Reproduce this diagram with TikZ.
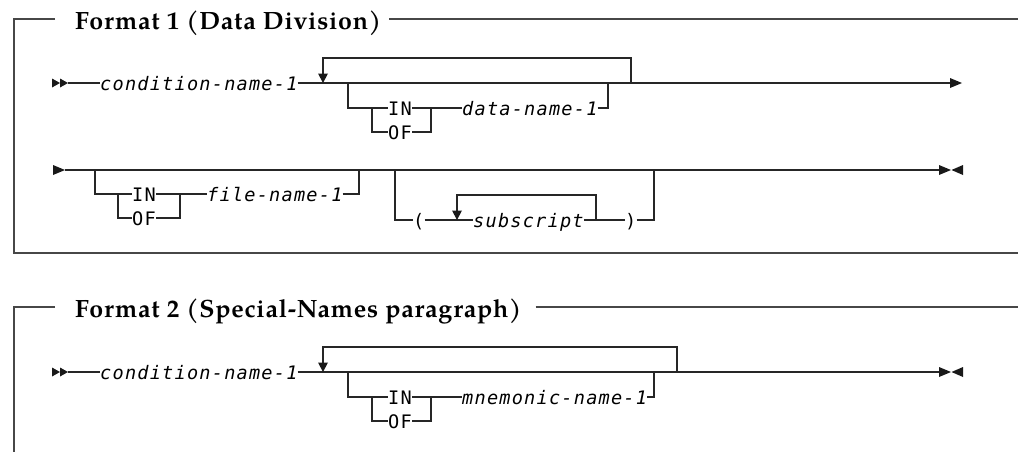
\documentclass[tikz,border=0pt]{standalone}
\usepackage{fontspec}
\newfontfamily\ttlfont{TeX Gyre Pagella}[LetterSpace=3]
\newfontfamily\monofont{DejaVu Sans Mono}[LetterSpace=6.5]
\begin{document}
\begin{tikzpicture}[x=1pt,y=-1pt,
  ln/.style={line width=1.3pt, black!85},
  frame/.style={line width=1.8pt, black!72},
  var/.style={font=\monofont\itshape\fontsize{18.6}{18}\selectfont, inner sep=0pt, anchor=base west},
  kw/.style={font=\monofont\fontsize{18.6}{18}\selectfont, inner sep=0pt, anchor=base west},
  ttl/.style={font=\ttlfont\bfseries\fontsize{25}{25}\selectfont, inner sep=0pt, anchor=base west},
  tip/.style={fill=black!90}]
\useasboundingbox (0,0) rectangle (1018,451);

% ================= Format 1 =================
\node[ttl] (t1) at (75,29) {Format 1 (Data Division)};
\coordinate (f1a) at (55,19);
\coordinate (f1b) at (14,19);
\coordinate (f1c) at (14,253);
\coordinate (f1d) at (1018,253);
\coordinate (f1e) at (1018,19);
\draw[frame] (f1a) -- (f1b) -- (f1c) -- (f1d);
\draw[frame] ([xshift=8]t1.east |- f1e) -- (f1e);

% --- row 1 (y = 83)
\coordinate (r1s) at (68,83);
\coordinate (r1e) at (951,83);
\fill[tip] (52,78.5) -- (60,83) -- (52,87.5) -- cycle;
\fill[tip] (60,78.5) -- (68,83) -- (60,87.5) -- cycle;
\node[var] (c1) at (100,90) {condition-name-1};
\draw[ln] (r1s) -- (c1.west |- r1s);
\draw[ln] (c1.east |- r1s) -- (r1e);
\fill[tip] (950,78) -- (962,83) -- (950,88) -- cycle;
% repeat loop
\coordinate (l1a) at (323,75);
\coordinate (l1b) at (323,58);
\coordinate (l1c) at (631,58);
\coordinate (l1d) at (631,83);
\draw[ln] (l1d) -- (l1c) -- (l1b) -- (l1a);
\fill[tip] (318,73.5) -- (328,73.5) -- (323,83) -- cycle;
% optional IN/OF data-name-1
\coordinate (o1a) at (348,83);
\coordinate (o1b) at (348,108);
\coordinate (k1) at (372,108);
\coordinate (k1b) at (372,132);
\coordinate (j1) at (431,108);
\coordinate (j1b) at (431,132);
\coordinate (e1) at (608,108);
\coordinate (e1t) at (608,83);
\node[kw] (in1) at (388,115) {IN};
\node[kw] (of1) at (388,139) {OF};
\node[var] (d1) at (462,115) {data-name-1};
\draw[ln] (o1a) -- (o1b) -- (in1.west |- o1b);
\draw[ln] (k1) -- (k1b) -- (of1.west |- k1b);
\draw[ln] (of1.east |- j1b) -- (j1b) -- (j1);
\draw[ln] (in1.east |- j1) -- (j1) -- (d1.west |- j1);
\draw[ln] (d1.east |- e1) -- (e1) -- (e1t);

% --- row 2 (y = 170)
\coordinate (r2s) at (65,170);
\coordinate (r2e) at (940,170);
\fill[tip] (53,165) -- (65,170) -- (53,175) -- cycle;
\draw[ln] (r2s) -- (r2e);
\fill[tip] (939,165) -- (951,170) -- (939,175) -- cycle;
\fill[tip] (963,165) -- (951.5,170) -- (963,175) -- cycle;
% optional IN/OF file-name-1
\coordinate (o2a) at (95,170);
\coordinate (o2b) at (95,194);
\coordinate (k2) at (118,194);
\coordinate (k2b) at (118,218);
\coordinate (j2) at (180,194);
\coordinate (j2b) at (180,218);
\coordinate (e2) at (359,194);
\coordinate (e2t) at (359,170);
\node[kw] (in2) at (132,201) {IN};
\node[kw] (of2) at (132,225) {OF};
\node[var] (fn) at (207,201) {file-name-1};
\draw[ln] (o2a) -- (o2b) -- (in2.west |- o2b);
\draw[ln] (k2) -- (k2b) -- (of2.west |- k2b);
\draw[ln] (of2.east |- j2b) -- (j2b) -- (j2);
\draw[ln] (in2.east |- j2) -- (j2) -- (fn.west |- j2);
\draw[ln] (fn.east |- e2) -- (e2) -- (e2t);
% optional ( subscript )
\coordinate (o3a) at (395,170);
\coordinate (o3b) at (395,220);
\coordinate (e3) at (654,220);
\coordinate (e3t) at (654,170);
\node[kw] (lp) at (413,227) {(};
\node[var] (sub) at (473,227) {subscript};
\node[kw] (rp) at (625,227) {)};
\draw[ln] (o3a) -- (o3b) -- (lp.west |- o3b);
\draw[ln] (lp.east |- o3b) -- (sub.west |- o3b);
\draw[ln] (sub.east |- o3b) -- (rp.west |- o3b);
\draw[ln] (rp.east |- e3) -- (e3) -- (e3t);
\coordinate (l2a) at (457,212);
\coordinate (l2b) at (457,195);
\coordinate (l2c) at (596,195);
\coordinate (l2d) at (596,220);
\draw[ln] (l2d) -- (l2c) -- (l2b) -- (l2a);
\fill[tip] (452,210.5) -- (462,210.5) -- (457,220) -- cycle;

% ================= Format 2 =================
\node[ttl] (t2) at (75,317.5) {Format 2 (Special-Names paragraph)};
\coordinate (f2a) at (55,307);
\coordinate (f2b) at (14,307);
\coordinate (f2c) at (14,452);
\coordinate (f2e) at (1018,307);
\draw[frame] (f2a) -- (f2b) -- (f2c);
\draw[frame] ([xshift=14]t2.east |- f2e) -- (f2e);

% --- row (y = 372)
\coordinate (r3s) at (68,372);
\coordinate (r3e) at (940,372);
\fill[tip] (52,367.5) -- (60,372) -- (52,376.5) -- cycle;
\fill[tip] (60,367.5) -- (68,372) -- (60,376.5) -- cycle;
\node[var] (c2) at (100,379) {condition-name-1};
\draw[ln] (r3s) -- (c2.west |- r3s);
\draw[ln] (c2.east |- r3s) -- (r3e);
\fill[tip] (939,367) -- (951,372) -- (939,377) -- cycle;
\fill[tip] (963,367) -- (951.5,372) -- (963,377) -- cycle;
% repeat loop
\coordinate (l3a) at (323,364);
\coordinate (l3b) at (323,347);
\coordinate (l3c) at (677,347);
\coordinate (l3d) at (677,372);
\draw[ln] (l3d) -- (l3c) -- (l3b) -- (l3a);
\fill[tip] (318,362.5) -- (328,362.5) -- (323,372) -- cycle;
% optional IN/OF mnemonic-name-1
\coordinate (o4a) at (348,372);
\coordinate (o4b) at (348,397);
\coordinate (k4) at (372,397);
\coordinate (k4b) at (372,421);
\coordinate (j4) at (431,397);
\coordinate (j4b) at (431,421);
\coordinate (e4) at (654,397);
\coordinate (e4t) at (654,372);
\node[kw] (in3) at (388,404) {IN};
\node[kw] (of3) at (388,428) {OF};
\node[var] (mn) at (462,404) {mnemonic-name-1};
\draw[ln] (o4a) -- (o4b) -- (in3.west |- o4b);
\draw[ln] (k4) -- (k4b) -- (of3.west |- k4b);
\draw[ln] (of3.east |- j4b) -- (j4b) -- (j4);
\draw[ln] (in3.east |- j4) -- (j4) -- (mn.west |- j4);
\draw[ln] (mn.east |- e4) -- (e4) -- (e4t);
\end{tikzpicture}
\end{document}
